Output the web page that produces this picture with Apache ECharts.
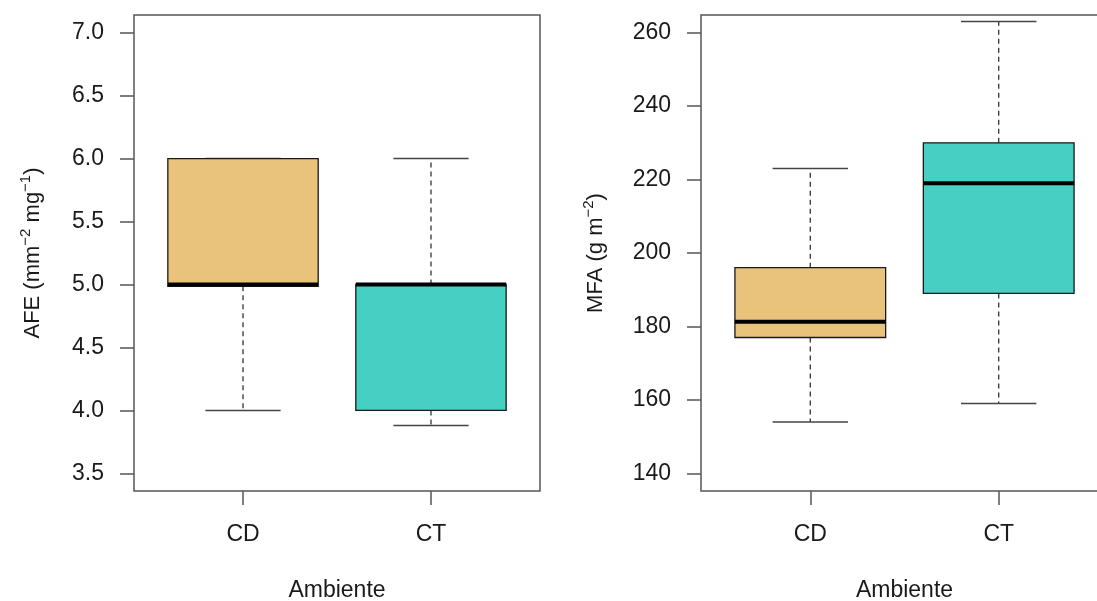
<!DOCTYPE html>
<html>
<head>
<meta charset="utf-8">
<script src="https://cdn.jsdelivr.net/npm/echarts@6/dist/echarts.min.js"></script>
<style>html,body{margin:0;padding:0;background:#fff}#c{width:1097px;height:601px}</style>
</head>
<body>
<div id="c"></div>
<script>
// ---- data ----
const categories = ['CD', 'CT'];
// [min, Q1, median, Q3, max]
const afeCD = [4.0, 4.985, 5.0, 6.0, 6.0];
const afeCT = [3.88, 4.0, 5.0, 5.0, 6.0];
const mfaCD = [154, 177, 181.3, 196, 223];
const mfaCT = [159, 189, 219, 230, 263];
const afeTicks = [3.5, 4.0, 4.5, 5.0, 5.5, 6.0, 6.5, 7.0];
const mfaTicks = [140, 160, 180, 200, 220, 240, 260];
const boxColors = ['#E9C27B', '#46CFC3'];

const FONT = '"Liberation Sans", Arial, sans-serif';
const TXT = '#1a1a1a';
const FS = 23;

function boxData(arrs) {
  return arrs.map((a, i) => ({ value: [i + 1].concat(a), itemStyle: { color: boxColors[i] } }));
}

function renderBox(params, api) {
  const x = api.value(0);
  const mn = api.value(1), q1 = api.value(2), md = api.value(3), q3 = api.value(4), mx = api.value(5);
  const hw = 0.4, cw = 0.2;
  const p = (a, b) => api.coord([a, b]);
  const fill = api.visual('color');
  const tl = p(x - hw, q3), br = p(x + hw, q1);
  const dash = { stroke: '#333', lineWidth: 1.3, lineDash: [5, 4] };
  const solid = { stroke: '#444', lineWidth: 1.5 };
  const line = (a, b, style) => ({ type: 'line', shape: { x1: a[0], y1: a[1], x2: b[0], y2: b[1] }, style: style });
  return {
    type: 'group',
    children: [
      line(p(x, q1), p(x, mn), dash),
      line(p(x, q3), p(x, mx), dash),
      line(p(x - cw, mn), p(x + cw, mn), solid),
      line(p(x - cw, mx), p(x + cw, mx), solid),
      { type: 'rect', shape: { x: tl[0], y: tl[1], width: br[0] - tl[0], height: br[1] - tl[1] },
        style: { fill: fill, stroke: '#1a1a1a', lineWidth: 1.3 } },
      line(p(x - hw, md), p(x + hw, md), { stroke: '#000', lineWidth: 4 })
    ]
  };
}

function xAxisCfg(gi) {
  return {
    type: 'value', gridIndex: gi, min: 0.42, max: 2.58,
    name: 'Ambiente', nameLocation: 'middle', nameGap: 88,
    nameTextStyle: { fontFamily: FONT, fontSize: FS, color: TXT },
    axisLine: { show: false },
    axisTick: { show: true, length: 14, customValues: [1, 2], lineStyle: { color: '#555', width: 1.5 } },
    axisLabel: { customValues: [1, 2], margin: 32, fontFamily: FONT, fontSize: FS, color: TXT,
      formatter: v => categories[Math.round(v) - 1] },
    splitLine: { show: false }
  };
}

function yAxisCfg(gi, min, max, ticks, fmt, name, gap) {
  return {
    type: 'value', gridIndex: gi, min: min, max: max,
    name: name, nameLocation: 'middle', nameGap: gap, nameRotate: 90,
    nameTextStyle: {
      fontFamily: FONT, color: TXT,
      rich: {
        n: { fontFamily: FONT, fontSize: 22, color: TXT, lineHeight: 30 },
        s: { fontFamily: FONT, fontSize: 15, color: TXT, lineHeight: 14, verticalAlign: 'top' }
      }
    },
    axisLine: { show: false },
    axisTick: { show: true, length: 14, customValues: ticks, lineStyle: { color: '#555', width: 1.5 } },
    axisLabel: { customValues: ticks, margin: 30, fontFamily: FONT, fontSize: FS, color: TXT, formatter: fmt },
    splitLine: { show: false }
  };
}

const gridStyle = { show: true, borderColor: '#555', borderWidth: 1.5, backgroundColor: 'transparent',
  containLabel: false, outerBoundsMode: 'none' };

const chart = echarts.init(document.getElementById('c'), null, { renderer: 'canvas' });
chart.setOption({
  backgroundColor: '#ffffff',
  animation: false,
  grid: [
    Object.assign({ left: 134, top: 15, width: 406, height: 476 }, gridStyle),
    Object.assign({ left: 701, top: 15, width: 407, height: 476 }, gridStyle)
  ],
  xAxis: [xAxisCfg(0), xAxisCfg(1)],
  yAxis: [
    yAxisCfg(0, 3.36, 7.14, afeTicks, v => v.toFixed(1),
      '{n|AFE (mm}{s|−2}{n| mg}{s|−1}{n|)}', 86),
    yAxisCfg(1, 135.2, 264.8, mfaTicks, v => String(v),
      '{n|MFA (g m}{s|−2}{n|)}', 90)
  ],
  series: [
    { type: 'custom', xAxisIndex: 0, yAxisIndex: 0, renderItem: renderBox,
      encode: { x: 0, y: [1, 2, 3, 4, 5] }, data: boxData([afeCD, afeCT]) },
    { type: 'custom', xAxisIndex: 1, yAxisIndex: 1, renderItem: renderBox,
      encode: { x: 0, y: [1, 2, 3, 4, 5] }, data: boxData([mfaCD, mfaCT]) }
  ]
});
</script>
</body>
</html>
